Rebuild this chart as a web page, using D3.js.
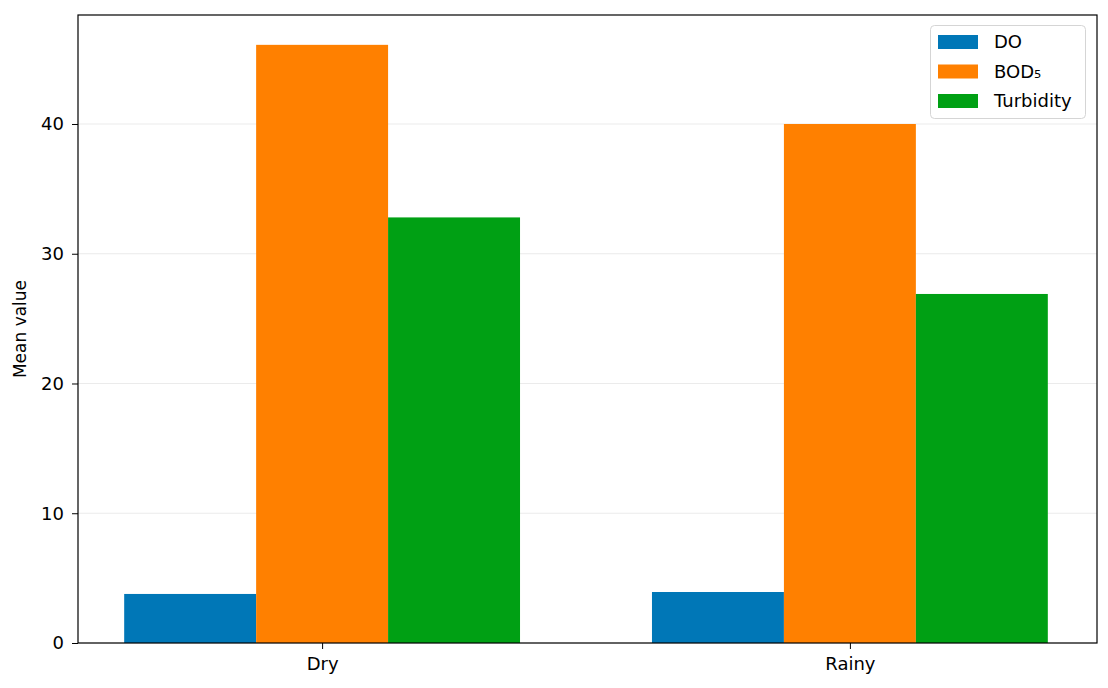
<!DOCTYPE html>
<html><head><meta charset="utf-8">
<script src="https://cdn.jsdelivr.net/npm/d3@7"></script>
<style>body{margin:0;background:#fff}svg{display:block;font-family:"DejaVu Sans",sans-serif}</style>
</head><body><svg id="c" width="1108" height="688"></svg>
<script>
const categories = ["Dry", "Rainy"];
const seriesNames = ["DO", "BOD₅", "Turbidity"];
const DO = [3.78, 3.93];
const BOD5 = [46.1, 40.0];
const Turbidity = [32.8, 26.9];
const yTicks = [0, 10, 20, 30, 40];
const colors = ["#0077b7", "#ff8000", "#00a014"];

const seriesValues = [DO, BOD5, Turbidity];
const svg = d3.select("#c");
const L = 78, R = 1097, T = 15, B = 643;
const barW = 0.25;
const x = d3.scaleLinear().domain([-0.4625, 1.4625]).range([L, R - 3]);
const y = d3.scaleLinear().domain([0, 48.4]).range([B, T]);
const fs = 18;

// grid
svg.append("g").selectAll("line").data(yTicks).join("line")
  .attr("x1", L).attr("x2", R).attr("y1", d => y(d)).attr("y2", d => y(d))
  .attr("stroke", "#ebebeb").attr("stroke-width", 1);

// bars
seriesValues.forEach((vals, si) => {
  svg.append("g").selectAll("rect").data(vals).join("rect")
    .attr("x", (d, i) => x(i + (si - 1) * barW - barW / 2))
    .attr("width", x(barW) - x(0))
    .attr("y", d => y(d)).attr("height", d => B - y(d))
    .attr("fill", colors[si]);
});

// axes
const yAxis = d3.axisLeft(y).tickValues(yTicks).tickSize(6).tickPadding(8).tickFormat(d3.format("d"));
const gy = svg.append("g").attr("transform", `translate(${L},0)`).call(yAxis);
gy.select(".domain").remove();
gy.selectAll("text").attr("font-size", fs).attr("fill", "#000").attr("font-family", "DejaVu Sans");
gy.selectAll("line").attr("stroke", "#000");

const xAxis = d3.axisBottom(x).tickValues([0, 1]).tickSize(6).tickPadding(8).tickFormat(i => categories[i]);
const gx = svg.append("g").attr("transform", `translate(0,${B})`).call(xAxis);
gx.select(".domain").remove();
gx.selectAll("text").attr("font-size", fs).attr("fill", "#000").attr("font-family", "DejaVu Sans");
gx.selectAll("line").attr("stroke", "#000");

// frame
svg.append("rect").attr("x", L).attr("y", T).attr("width", R - L).attr("height", B - T)
  .attr("fill", "none").attr("stroke", "#000").attr("stroke-width", 1.2);

// y label
svg.append("text").attr("transform", `translate(26,${(T + B) / 2}) rotate(-90)`)
  .attr("text-anchor", "middle").attr("font-size", fs - 1).text("Mean value");

// legend
const lg = svg.append("g");
lg.append("rect").attr("x", 930.5).attr("y", 25.5).attr("width", 155).attr("height", 93).attr("rx", 4)
  .attr("fill", "#fff").attr("fill-opacity", 0.85).attr("stroke", "#d5d5d5");
seriesNames.forEach((n, i) => {
  const cy = 42 + i * 29.5;
  lg.append("rect").attr("x", 938).attr("y", cy - 7).attr("width", 40).attr("height", 14).attr("fill", colors[i]);
  lg.append("text").attr("x", 994).attr("y", cy).attr("dy", "0.35em").attr("font-size", fs).text(n);
});
</script></body></html>
